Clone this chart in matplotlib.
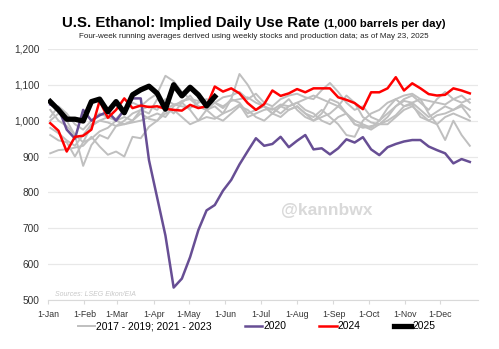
import numpy as np
import matplotlib
matplotlib.use("Agg")
import matplotlib.pyplot as plt

plt.rcParams['font.family'] = ['Liberation Sans', 'DejaVu Sans']

# month ticks (day of year) and labels
month_days = [0, 31, 59, 90, 120, 151, 181, 212, 243, 273, 304, 334]
month_labels = ['1-Jan', '1-Feb', '1-Mar', '1-Apr', '1-May', '1-Jun',
                '1-Jul', '1-Aug', '1-Sep', '1-Oct', '1-Nov', '1-Dec']

# weekly four-week averages, 1,000 bpd
y2017 = [1010, 1040, 1020, 990, 975, 1000, 1020, 1010, 1005, 1030, 1050, 1040, 1060,
         1075, 1125, 1110, 1080, 1060, 1055, 1045, 1050, 1065, 1070, 1080, 1060, 1075,
         1050, 1040, 1060, 1070, 1075, 1065, 1060, 1085, 1105, 1080, 1050, 1030, 1040,
         1010, 1000, 1035, 1060, 1070, 1075, 1060, 1055, 1050, 1045, 1060, 1070, 1050]
y2018 = [980, 965, 945, 930, 960, 990, 1000, 995, 985, 1000, 1020, 1030, 1040,
         1030, 1060, 1045, 1040, 1035, 1050, 1060, 1050, 1040, 1055, 1060, 1065, 1050,
         1040, 1030, 1045, 1040, 1050, 1060, 1070, 1060, 1050, 1040, 1020, 1000, 990,
         980, 1000, 1020, 1040, 1055, 1050, 1030, 1010, 1025, 1040, 1030, 1045, 1030]
y2019 = [1000, 1020, 1000, 960, 940, 985, 1000, 1010, 1000, 990, 995, 1000, 1010,
         1020, 1010, 1040, 1055, 1060, 1040, 1030, 1050, 1035, 1060, 1050, 1020, 1030,
         1040, 1020, 1010, 1030, 1040, 1020, 1000, 1010, 1020, 1040, 1070, 1050, 1010,
         995, 990, 990, 1010, 1030, 1040, 1020, 1000, 990, 1010, 1020, 1010, 1000]
y2021 = [909, 918, 920, 925, 930, 955, 928, 905, 914, 900, 955, 951, 983,
         1000, 1020, 1030, 1010, 990, 1000, 1030, 1040, 1020, 1060, 1130, 1100, 1060,
         1040, 1020, 1040, 1060, 1030, 1010, 1000, 1020, 1060, 1050, 1020, 990, 980,
         985, 990, 1010, 1040, 1060, 1070, 1050, 1030, 1060, 1080, 1060, 1050, 1060]
y2022 = [1030, 1000, 985, 960, 874, 932, 960, 950, 985, 990, 1000, 1030, 1020,
         1060, 1040, 1020, 1050, 1070, 1040, 1030, 1010, 1000, 1020, 1040, 1030, 1010,
         1000, 1020, 1040, 1030, 1040, 1020, 1010, 1030, 1010, 990, 960, 955, 1000,
         1020, 1030, 1050, 1060, 1040, 1050, 1060, 1020, 990, 946, 1000, 960, 930]
y2023 = [960, 945, 940, 900, 940, 950, 970, 980, 1000, 1010, 1000, 1020, 1005,
         1000, 1030, 1045, 1050, 1030, 1000, 1010, 1005, 1020, 1030, 1045, 1010, 1020,
         1030, 1035, 1020, 1040, 1050, 1030, 1020, 1000, 990, 1010, 1020, 990, 985,
         975, 990, 1000, 1015, 1040, 1045, 1010, 1000, 1015, 1020, 1030, 1040, 1010]
y2020 = [1045, 1035, 975, 950, 1030, 1000, 1015, 1025, 1000, 1030, 1062, 1062, 890,
         785, 680, 535, 560, 620, 695, 750, 765, 805, 835, 878, 915, 951,
         930, 935, 955, 926, 944, 960, 920, 923, 906, 923, 948, 939, 954,
         920, 904, 926, 935, 942, 946, 946, 928, 918, 909, 881, 893, 885]
y2024 = [993, 972, 914, 955, 958, 975, 1055, 1008, 1030, 1062, 1035, 1042, 1038,
         1040, 1033, 1030, 1028, 1044, 1035, 1040, 1095, 1081, 1090, 1076, 1049, 1030,
         1046, 1084, 1069, 1076, 1088, 1079, 1090, 1090, 1090, 1065, 1058, 1049, 1032,
         1079, 1079, 1090, 1121, 1084, 1104, 1090, 1074, 1070, 1072, 1090, 1084, 1076]
y2025 = [1053, 1030, 1004, 1004, 999, 1053, 1060, 1025, 1053, 1022, 1072, 1086, 1096,
         1076, 1032, 1100, 1069, 1093, 1072, 1041, 1067]

gray_years = [y2017, y2018, y2019, y2021, y2022, y2023]


def week_days(vals):
    return 2 + 7 * np.arange(len(vals))


fig = plt.figure(figsize=(4.99, 3.49), dpi=100)
ax = fig.add_axes([0.096, 0.140, 0.862, 0.720])

for i, vals in enumerate(gray_years):
    ax.plot(week_days(vals), vals, color='#bfbfbf', lw=1.4,
            label='2017 - 2019; 2021 - 2023' if i == 0 else None, zorder=2)
ax.plot(week_days(y2020), y2020, color='#674e94', lw=1.8, label='2020', zorder=3)
ax.plot(week_days(y2024), y2024, color='#ff0000', lw=1.8, label='2024', zorder=4)
ax.plot(week_days(y2025), y2025, color='black', lw=3.8, label='2025', zorder=5)

ax.set_xlim(0, 366)
ax.set_ylim(500, 1200)
ax.set_yticks(range(500, 1201, 100))
ax.set_yticklabels([f'{v:,}' for v in range(500, 1201, 100)])
ax.set_xticks(month_days)
ax.set_xticklabels(month_labels)
ax.grid(axis='y', color='#e8e8e8', lw=0.9)
ax.set_axisbelow(True)
for side in ['top', 'right', 'left']:
    ax.spines[side].set_visible(False)
ax.spines['bottom'].set_color('#d9d9d9')
ax.tick_params(axis='y', length=0, pad=6, labelsize=7.3, labelcolor='#333333')
ax.tick_params(axis='x', length=3, color='#d9d9d9', pad=4, labelsize=6.3,
               labelcolor='#333333')

ax.text(6, 512, 'Sources: LSEG Eikon/EIA', fontsize=5, style='italic',
        color='#c8c8c8')
ax.text(237, 751, '@kannbwx', fontsize=12.5, fontweight='bold',
        color='#d9d9d9', ha='center', va='center')

fig.text(0.640, 0.922, 'U.S. Ethanol: Implied Daily Use Rate', ha='right',
         va='baseline', fontsize=10.8, fontweight='bold')
fig.text(0.649, 0.922, '(1,000 barrels per day)', ha='left', va='baseline',
         fontsize=8.2, fontweight='bold')
fig.text(0.509, 0.890, 'Four-week running averages derived using weekly stocks '
         'and production data; as of May 23, 2025', ha='center', va='baseline',
         fontsize=5.8, color='#222222')

fig.legend(loc='center', bbox_to_anchor=(0.514, 0.065), ncol=4, frameon=False,
           fontsize=7.4, handlelength=1.7, handletextpad=0.1,
           columnspacing=3.2)

fig.savefig('out.png', dpi=100)
